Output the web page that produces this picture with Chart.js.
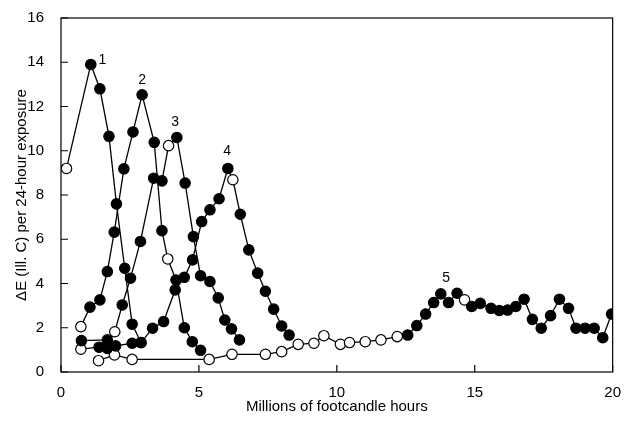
<!DOCTYPE html>
<html>
<head>
<meta charset="utf-8">
<script src="https://cdn.jsdelivr.net/npm/chart.js@4/dist/chart.umd.min.js"></script>
<style>
  html, body { margin: 0; padding: 0; background: #fff; }
  #wrap { width: 625px; height: 425px; }
</style>
</head>
<body>
<div id="wrap"><canvas id="fadeChart"></canvas></div>
<script>
// Datos (x en millones de footcandle-horas, y en ΔE)
const s1X = [0.2, 1.08, 1.41, 1.74, 2.01, 2.31, 2.58, 2.9];
const s1Y = [9.2, 13.9, 12.8, 10.65, 7.6, 4.69, 2.16, 1.33];
const s1Open = [0];

const s2X = [0.72, 1.05, 1.41, 1.68, 1.93, 2.28, 2.61, 2.94, 3.38, 3.66, 3.87, 4.17, 4.47, 4.76, 5.06];
const s2Y = [2.05, 2.93, 3.26, 4.54, 6.32, 9.18, 10.85, 12.53, 10.38, 6.39, 5.11, 4.16, 2.0, 1.37, 0.98];
const s2Open = [0, 10];

const s3X = [0.74, 1.68, 1.95, 2.22, 2.52, 2.88, 3.36, 3.66, 3.9, 4.2, 4.5, 4.8, 5.06, 5.4, 5.7, 5.94, 6.18, 6.47];
const s3Y = [1.42, 1.45, 1.82, 3.03, 4.24, 5.9, 8.76, 8.64, 10.23, 10.6, 8.54, 6.12, 4.35, 4.09, 3.35, 2.35, 1.95, 1.45];
const s3Open = [2, 8];

const s4X = [0.72, 1.38, 1.68, 1.98, 2.58, 2.9, 3.32, 3.72, 4.14, 4.47, 4.77, 5.1, 5.4, 5.73, 6.05, 6.23, 6.5, 6.81, 7.13, 7.41, 7.71, 8.0, 8.27];
const s4Y = [1.03, 1.12, 1.07, 1.18, 1.3, 1.33, 1.98, 2.28, 3.71, 4.28, 5.07, 6.8, 7.33, 7.83, 9.2, 8.69, 7.13, 5.52, 4.47, 3.65, 2.84, 2.08, 1.67];
const s4Open = [0, 15];

const s5X = [1.36, 1.94, 2.58, 5.37, 6.2, 7.41, 8.0, 8.6, 9.17, 9.53, 10.13, 10.46, 11.03, 11.6, 12.19,
             12.57, 12.9, 13.22, 13.51, 13.77, 14.05, 14.36, 14.63, 14.89, 15.2, 15.59, 15.89, 16.19, 16.49,
             16.79, 17.09, 17.41, 17.75, 18.07, 18.4, 18.67, 19.0, 19.33, 19.64, 19.96];
const s5Y = [0.51, 0.77, 0.57, 0.57, 0.8, 0.8, 0.92, 1.25, 1.3, 1.64, 1.25, 1.33, 1.37, 1.45, 1.6,
             1.67, 2.1, 2.62, 3.14, 3.53, 3.14, 3.56, 3.26, 2.96, 3.1, 2.88, 2.78, 2.8, 2.96,
             3.29, 2.38, 1.98, 2.55, 3.29, 2.88, 1.98, 1.98, 1.98, 1.55, 2.62];
const s5Open = [0, 1, 2, 3, 4, 5, 6, 7, 8, 9, 10, 11, 12, 13, 14, 22];

const curveLabels = ['1', '2', '3', '4', '5'];
const labelX = [1.5, 2.94, 4.14, 6.02, 13.96];
const labelY = [14.1, 13.2, 11.3, 9.97, 4.25];

const xTicks = [0, 5, 10, 15, 20];
const yTicks = [0, 2, 4, 6, 8, 10, 12, 14, 16];

const FONT = "'Liberation Sans', Arial, sans-serif";

// Construye un dataset a partir de los arreglos
function makeSeries(xs, ys, openIdx) {
    return {
        data: xs.map((x, i) => ({ x: x, y: ys[i] })),
        showLine: true,
        borderColor: '#000',
        borderWidth: 1.3,
        pointRadius: 5.2,
        pointHoverRadius: 5.2,
        pointBorderWidth: 1.2,
        pointBorderColor: '#000',
        pointBackgroundColor: xs.map((x, i) => openIdx.includes(i) ? '#fff' : '#000')
    };
}

// Marco, marcas interiores y etiquetas de las curvas
const framePlugin = {
    id: 'frame',
    beforeDatasetsDraw(chart) {
        const { ctx, chartArea: a, scales } = chart;
        ctx.save();
        ctx.strokeStyle = '#000';
        ctx.lineWidth = 1.2;
        ctx.strokeRect(a.left, a.top, a.right - a.left, a.bottom - a.top);
        ctx.beginPath();
        xTicks.forEach(v => {
            const px = scales.x.getPixelForValue(v);
            ctx.moveTo(px, a.bottom);
            ctx.lineTo(px, a.bottom - 7);
        });
        yTicks.forEach(v => {
            const py = scales.y.getPixelForValue(v);
            ctx.moveTo(a.left, py);
            ctx.lineTo(a.left + 7, py);
        });
        ctx.stroke();
        ctx.restore();
    },
    afterDatasetsDraw(chart) {
        const { ctx, scales } = chart;
        ctx.save();
        ctx.fillStyle = '#000';
        ctx.font = '14px ' + FONT;
        ctx.textAlign = 'center';
        ctx.textBaseline = 'middle';
        curveLabels.forEach((t, i) => {
            ctx.fillText(t, scales.x.getPixelForValue(labelX[i]), scales.y.getPixelForValue(labelY[i]));
        });
        ctx.restore();
    }
};

document.addEventListener('DOMContentLoaded', function () {
    const ctx = document.getElementById('fadeChart').getContext('2d');
    new Chart(ctx, {
        type: 'scatter',
        data: {
            datasets: [
                makeSeries(s1X, s1Y, s1Open),
                makeSeries(s2X, s2Y, s2Open),
                makeSeries(s3X, s3Y, s3Open),
                makeSeries(s4X, s4Y, s4Open),
                makeSeries(s5X, s5Y, s5Open)
            ]
        },
        options: {
            responsive: true,
            maintainAspectRatio: false,
            animation: false,
            layout: { padding: { top: 18, right: 8, left: 13, bottom: 0 } },
            plugins: { legend: { display: false }, tooltip: { enabled: false } },
            scales: {
                x: {
                    type: 'linear',
                    min: 0, max: 20,
                    afterBuildTicks: s => { s.ticks = xTicks.map(v => ({ value: v })); },
                    grid: { display: false },
                    border: { display: false },
                    ticks: { color: '#000', font: { family: FONT, size: 15 }, padding: 4, maxRotation: 0 },
                    title: {
                        display: true,
                        text: 'Millions of footcandle hours',
                        color: '#000',
                        font: { family: FONT, size: 15 },
                        padding: { top: 2, bottom: 9 }
                    },
                    afterFit: s => { s.height = 53; }
                },
                y: {
                    type: 'linear',
                    min: 0, max: 16,
                    afterBuildTicks: s => { s.ticks = yTicks.map(v => ({ value: v })); },
                    grid: { display: false },
                    border: { display: false },
                    ticks: { color: '#000', font: { family: FONT, size: 15 }, padding: 9 },
                    title: {
                        display: true,
                        text: 'ΔE (Ill. C) per 24-hour exposure',
                        color: '#000',
                        font: { family: FONT, size: 15 },
                        padding: { top: 0, bottom: 4 }
                    },
                    afterFit: s => { s.width = 48; }
                }
            }
        },
        plugins: [framePlugin]
    });
});
</script>
</body>
</html>
